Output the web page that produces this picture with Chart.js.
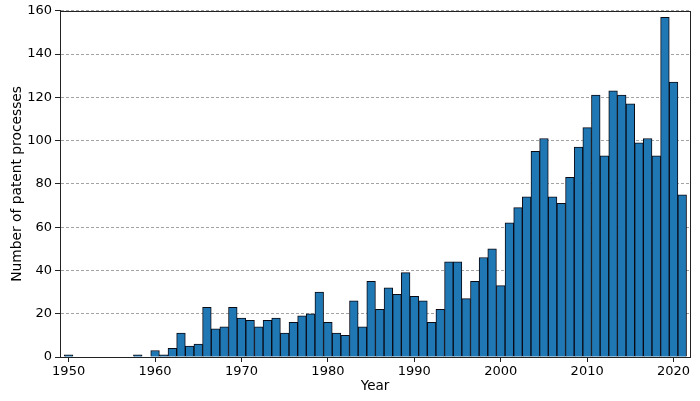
<!DOCTYPE html>
<html>
<head>
<meta charset="utf-8">
<script src="https://cdn.jsdelivr.net/npm/chart.js@4"></script>
<style>
    html, body { margin: 0; padding: 0; background: #fff; }
    #wrap { width: 700px; height: 401px; position: relative; }
</style>
</head>
<body>
<div id="wrap"><canvas id="patentChart"></canvas></div>
<script>
// Số liệu
const years = [];
for (let y = 1950; y <= 2021; y++) years.push(y);

const counts = [
    1, 0, 0, 0, 0, 0, 0, 0, 1, 0,          // 1950-1959
    3, 1, 4, 11, 5, 6, 23, 13, 14, 23,     // 1960-1969
    18, 17, 14, 17, 18, 11, 16, 19, 20, 30, // 1970-1979
    16, 11, 10, 26, 14, 35, 22, 32, 29, 39, // 1980-1989
    28, 26, 16, 22, 44, 44, 27, 35, 46, 50, // 1990-1999
    33, 62, 69, 74, 95, 101, 74, 71, 83, 97, // 2000-2009
    106, 121, 93, 123, 121, 117, 99, 101, 93, 157, // 2010-2019
    127, 75                                // 2020-2021
];

const xTicks = [1950, 1960, 1970, 1980, 1990, 2000, 2010, 2020];
const yTicks = [0, 20, 40, 60, 80, 100, 120, 140, 160];

const FONT = 'DejaVu Sans';

// Khung viền quanh vùng vẽ
const frame = {
    id: 'frame',
    afterDatasetsDraw(chart) {
        const a = chart.chartArea;
        const ctx = chart.ctx;
        ctx.save();
        ctx.strokeStyle = '#222';
        ctx.lineWidth = 1;
        ctx.setLineDash([]);
        ctx.strokeRect(Math.round(a.left) + 0.5, Math.round(a.top) + 0.5,
            Math.round(a.right - a.left), Math.round(a.bottom - a.top));
        ctx.restore();
    }
};

new Chart(document.getElementById('patentChart'), {
    type: 'bar',
    data: {
        datasets: [{
            data: years.map((yr, i) => ({ x: yr, y: counts[i] })),
            backgroundColor: '#1f77b4',
            borderColor: '#0a0a14',
            borderWidth: 1,
            barPercentage: 1,
            categoryPercentage: 1
        }]
    },
    options: {
        responsive: true,
        maintainAspectRatio: false,
        animation: false,
        layout: { autoPadding: false, padding: { left: 0, right: 10, top: 6.5, bottom: 0 } },
        plugins: {
            legend: { display: false },
            tooltip: { enabled: false }
        },
        scales: {
            x: {
                type: 'linear',
                offset: false,
                min: 1949,
                max: 2021.9,
                afterBuildTicks: s => { s.ticks = xTicks.map(v => ({ value: v })); },
                afterFit: s => { s.height = 44; },
                grid: { offset: false, drawOnChartArea: false, tickLength: 5, tickColor: '#222', tickWidth: 1 },
                border: { color: '#222', width: 1 },
                ticks: {
                    color: '#000', font: { family: FONT, size: 13 }, padding: 2, maxRotation: 0, autoSkip: false,
                    callback: v => String(v)
                },
                title: { display: true, text: 'Year', color: '#000', font: { family: FONT, size: 13.5 }, padding: { top: 0, bottom: 6 } }
            },
            y: {
                min: 0,
                max: 160,
                afterBuildTicks: s => { s.ticks = yTicks.map(v => ({ value: v })); },
                afterFit: s => { s.width = 60; },
                grid: {
                    color: 'rgba(110,110,110,0.8)',
                    lineWidth: 0.8,
                    tickLength: 5,
                    tickColor: '#222',
                    tickWidth: 1,
                    tickBorderDash: [1, 0]
                },
                // trong v4, nét đứt của lưới nằm ở border.dash
                border: { color: '#222', width: 1, dash: [3, 2] },
                ticks: { color: '#000', font: { family: FONT, size: 13 }, padding: 3, callback: v => String(v) },
                title: { display: true, text: 'Number of patent processes', color: '#000', font: { family: FONT, size: 13.8 }, padding: { top: 9, bottom: 1 } }
            }
        }
    },
    plugins: [frame]
});
</script>
</body>
</html>
